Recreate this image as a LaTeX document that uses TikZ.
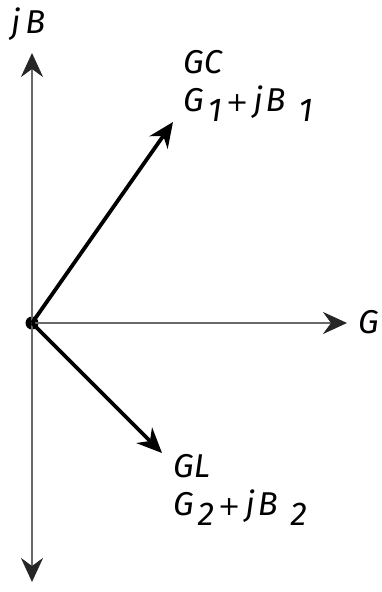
\documentclass[tikz,border=0pt]{standalone}
\usepackage{fontspec}
\setmainfont{Fira Sans}
\newfontfamily\plusfont{DejaVu Sans}
\usetikzlibrary{arrows.meta}
\definecolor{axisgray}{RGB}{105,105,105}
\newcommand\lowsub[1]{\raisebox{-10pt}{#1}}
\newcommand\bigplus{{\plusfont\fontsize{27}{30}\selectfont +}}
\tikzset{
  axtip/.tip={Stealth[length=24pt,width=22pt,inset=8pt,color=black!85]},
  vectip/.tip={Stealth[length=25pt,width=22pt,inset=8pt]}
}
\begin{document}
\begin{tikzpicture}[x=1pt,y=-1pt,
  axis/.style={draw=axisgray, line width=2.6pt},
  vec/.style={draw=black, line width=3.8pt, -vectip},
  lbl/.style={anchor=base west, inner sep=0pt, font=\fontsize{33}{38}\selectfont\itshape}]
\useasboundingbox (0,0) rectangle (382,592);
\coordinate (top) at (32,53);
\coordinate (bot) at (32,582);
\coordinate (right) at (347,323);
\coordinate (gctip) at (173,122);
\coordinate (gltip) at (162,453);
\node[circle, fill=black, minimum size=13pt, inner sep=0pt] (O) at (32,323) {};
\draw[axis, axtip-axtip] (bot) -- (top);
\draw[axis, -axtip] (O.center) -- (right);
\draw[vec] (O.center) -- (gctip);
\draw[vec] (O.center) -- (gltip);
\node[lbl] (jb) at (11,33) {j\hspace{5pt}B};
\node[lbl] (g) at (358,333) {G};
\node[lbl] (gc) at (183,73) {GC};
\node[lbl] (gc2) at (183,111) {G\hspace{4pt}\lowsub{1}\hspace{4pt}\bigplus\hspace{5pt}j\hspace{3pt}B\hspace{13pt}\lowsub{1}};
\node[lbl] (gl) at (173,477) {GL};
\node[lbl] (gl2) at (173,515) {G\hspace{4pt}\lowsub{2}\hspace{4pt}\bigplus\hspace{5pt}j\hspace{3pt}B\hspace{13pt}\lowsub{2}};
\end{tikzpicture}
\end{document}
